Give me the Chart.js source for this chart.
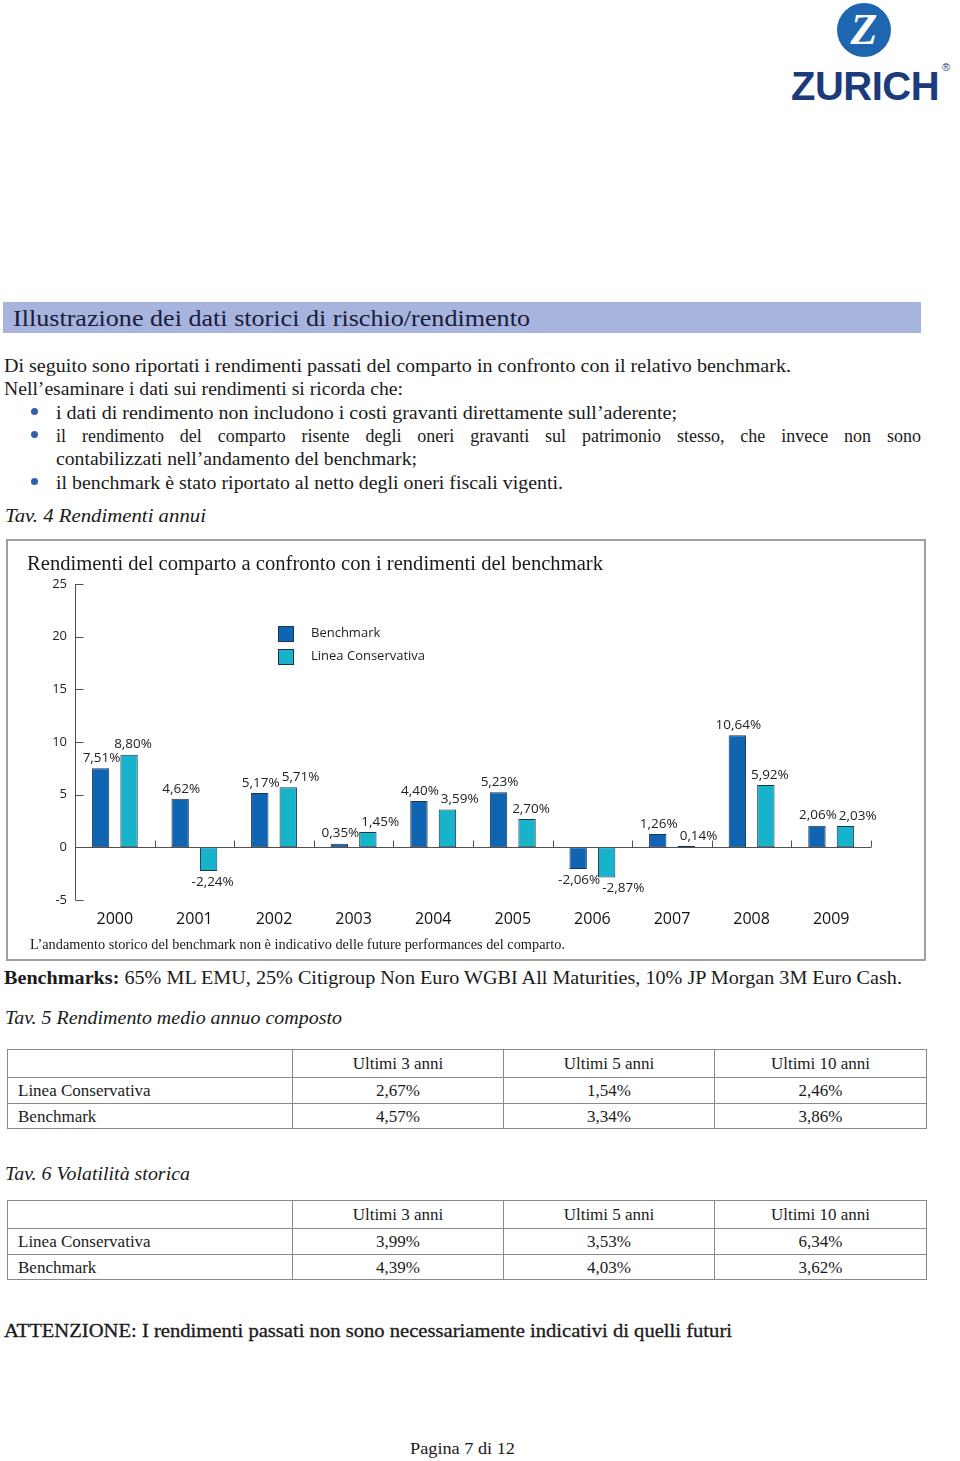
<!DOCTYPE html>
<html lang="it">
<head>
<meta charset="utf-8">
<title>Rendimenti annui</title>
<script src="https://cdn.jsdelivr.net/npm/chart.js@4.4.1/dist/chart.umd.min.js"></script>
<style>
  html, body { margin: 0; padding: 0; background: #fff; }
  body { width: 960px; height: 1461px; position: relative; overflow: hidden; }
  .t { position: absolute; white-space: nowrap; line-height: 1; font-family: "Liberation Serif", serif; color: #1a1a1a; transform-origin: 0 50%; }
  .it { font-style: italic; }
  .bul { position: absolute; width: 7px; height: 7px; border-radius: 50%; background: #2f5fb3; }
  #hdr { position: absolute; left: 3px; top: 302px; width: 918px; height: 31px; background: #a7b4de; }
  #box { position: absolute; left: 6px; top: 539px; width: 920px; height: 422px; border: 2px solid #a0a0a0; box-sizing: border-box; }
  #chart { position: absolute; left: 0; top: 540px; }
  table { position: absolute; left: 7px; border-collapse: collapse; width: 919px; table-layout: fixed; font-family: "Liberation Serif", serif; font-size: 17px; color: #1a1a1a; }
  td { border: 1px solid #8a8a8a; padding: 0 10px; line-height: 1; }
  td.c { text-align: center; }
  #logo-c { position: absolute; left: 837px; top: 3px; width: 54px; height: 54px; border-radius: 50%; background: #1f66b1; color: #fff; font: bold italic 44px "Liberation Serif", serif; text-align: center; line-height: 54px; }
  #logo-t { position: absolute; left: 791px; top: 66px; font: bold 40px "Liberation Sans", sans-serif; color: #1b3b7c; letter-spacing: -0.5px; line-height: 40px; }
  #logo-r { position: absolute; left: 942px; top: 61px; font: 11px "Liberation Sans", sans-serif; color: #1b3b7c; }
</style>
</head>
<body>
<div id="logo-c">Z</div>
<div id="logo-t">ZURICH</div>
<div id="logo-r">®</div>

<div id="hdr"></div>
<div class="t" data-w="517" style="left:13px; top:307px; font-size:23px; color:#1b1b3a;">Illustrazione dei dati storici di rischio/rendimento</div>

<div class="t" data-w="787" style="left:4px; top:357px; font-size:18px;">Di seguito sono riportati i rendimenti passati del comparto in confronto con il relativo benchmark.</div>
<div class="t" data-w="399" style="left:4px; top:380px; font-size:18px;">Nell’esaminare i dati sui rendimenti si ricorda che:</div>
<div class="bul" style="left:31px; top:408px;"></div>
<div class="t" data-w="621" style="left:56px; top:404px; font-size:18px;">i dati di rendimento non includono i costi gravanti direttamente sull’aderente;</div>
<div class="bul" style="left:31px; top:431px;"></div>
<div class="t" style="left:56px; top:427px; font-size:18px; width:865px; white-space:normal; text-align:justify; text-align-last:justify;">il rendimento del comparto risente degli oneri gravanti sul patrimonio stesso, che invece non sono</div>
<div class="t" data-w="361" style="left:56px; top:450px; font-size:18px;">contabilizzati nell’andamento del benchmark;</div>
<div class="bul" style="left:31px; top:478px;"></div>
<div class="t" data-w="507" style="left:56px; top:474px; font-size:18px;">il benchmark è stato riportato al netto degli oneri fiscali vigenti.</div>
<div class="t it" data-w="201" style="left:5px; top:507px; font-size:18px;">Tav. 4 Rendimenti annui</div>

<div id="box"></div>
<canvas id="chart" width="960" height="400"></canvas>
<div class="t" data-w="576" style="left:27px; top:553px; font-size:20px;">Rendimenti del comparto a confronto con i rendimenti del benchmark</div>
<div class="t" data-w="535" style="left:30px; top:938px; font-size:14px;">L’andamento storico del benchmark non è indicativo delle future performances del comparto.</div>

<div class="t" data-w="898" style="left:4px; top:969px; font-size:18px;"><b>Benchmarks:</b> 65% ML EMU, 25% Citigroup Non Euro WGBI All Maturities, 10% JP Morgan 3M Euro Cash.</div>
<div class="t it" data-w="337" style="left:5px; top:1009px; font-size:18px;">Tav. 5 Rendimento medio annuo composto</div>
<table id="tab5" style="top:1049px;"></table>
<div class="t it" data-w="185" style="left:5px; top:1165px; font-size:18px;">Tav. 6 Volatilità storica</div>
<table id="tab6" style="top:1200px;"></table>

<div class="t" data-w="728" style="left:4px; top:1321px; font-size:19px; -webkit-text-stroke:0.3px #1a1a1a;">ATTENZIONE: I rendimenti passati non sono necessariamente indicativi di quelli futuri</div>
<div class="t" data-w="105" style="left:410px; top:1440px; font-size:17px;">Pagina 7 di 12</div>

<script>
const years = ['2000', '2001', '2002', '2003', '2004', '2005', '2006', '2007', '2008', '2009'];
const benchmark = [7.51, 4.62, 5.17, 0.35, 4.40, 5.23, -2.06, 1.26, 10.64, 2.06];
const lineaConservativa = [8.80, -2.24, 5.71, 1.45, 3.59, 2.70, -2.87, 0.14, 5.92, 2.03];
const yMin = -5;
const yMax = 25;
const yStep = 5;

const periodi = ['Ultimi 3 anni', 'Ultimi 5 anni', 'Ultimi 10 anni'];
const rendMedioLinea = ['2,67%', '1,54%', '2,46%'];
const rendMedioBench = ['4,57%', '3,34%', '3,86%'];
const volLinea = ['3,99%', '3,53%', '6,34%'];
const volBench = ['4,39%', '4,03%', '3,62%'];

// tabelle
function buildTable(id, linea, bench) {
    const tab = document.getElementById(id);
    let html = '<colgroup><col style="width:285px"><col style="width:211px"><col style="width:211px"><col style="width:212px"></colgroup>';
    html += '<tr style="height:28px"><td></td>' + periodi.map(p => '<td class="c">' + p + '</td>').join('') + '</tr>';
    html += '<tr style="height:26px"><td>Linea Conservativa</td>' + linea.map(v => '<td class="c">' + v + '</td>').join('') + '</tr>';
    html += '<tr style="height:25px"><td>Benchmark</td>' + bench.map(v => '<td class="c">' + v + '</td>').join('') + '</tr>';
    tab.innerHTML = html;
}
buildTable('tab5', rendMedioLinea, rendMedioBench);
buildTable('tab6', volLinea, volBench);

// adatta la larghezza delle righe di testo
document.querySelectorAll('[data-w]').forEach(el => {
    const w = el.getBoundingClientRect().width;
    el.style.transform = 'scaleX(' + (parseFloat(el.dataset.w) / w) + ')';
});

const fmt = v => v.toFixed(2).replace('.', ',') + '%';

// assi, etichette dei valori e legenda
const axisPlugin = {
    id: 'axisPlugin',
    afterDatasetsDraw(chart) {
        const { ctx, chartArea: a, scales: { x, y } } = chart;
        const y0 = Math.round(y.getPixelForValue(0)) + 0.5;
        const xl = Math.round(a.left) + 0.5;
        ctx.save();
        ctx.strokeStyle = '#505050';
        ctx.lineWidth = 1;
        ctx.beginPath();
        ctx.moveTo(xl, a.top);
        ctx.lineTo(xl, a.bottom);
        y.ticks.forEach(t => {
            const py = Math.round(y.getPixelForValue(t.value)) + 0.5;
            ctx.moveTo(xl, py);
            ctx.lineTo(xl + 8, py);
        });
        ctx.moveTo(xl, y0);
        ctx.lineTo(a.right, y0);
        const cw = (a.right - a.left) / years.length;
        for (let i = 1; i <= years.length; i++) {
            const px = Math.round(a.left + i * cw) + 0.5;
            ctx.moveTo(px, y0 - 7);
            ctx.lineTo(px, y0);
        }
        ctx.stroke();

        // etichette: se si sovrappongono a quella del benchmark, spostale a destra
        ctx.font = '13.5px "Open Sans"';
        ctx.fillStyle = '#222';
        ctx.textAlign = 'center';
        ctx.textBaseline = 'middle';
        const m0 = chart.getDatasetMeta(0).data;
        const m1 = chart.getDatasetMeta(1).data;
        years.forEach((yr, i) => {
            const v0 = benchmark[i], v1 = lineaConservativa[i];
            const t0 = fmt(v0), t1 = fmt(v1);
            const w0 = ctx.measureText(t0).width, w1 = ctx.measureText(t1).width;
            const x0 = m0[i].x + 1;
            const ly0 = v0 >= 0 ? m0[i].y - 10 : m0[i].y + 11;
            let x1 = m1[i].x + 4;
            const ly1 = v1 >= 0 ? m1[i].y - 10 : m1[i].y + 11;
            if (Math.abs(ly1 - ly0) < 12) {
                x1 = Math.max(x1, x0 + w0 / 2 + w1 / 2 + 2);
            }
            ctx.fillText(t0, x0, ly0);
            ctx.fillText(t1, x1, ly1);
        });

        // legenda
        const lx = a.left + 203;
        let ly = a.top + 42;
        ctx.textAlign = 'left';
        ctx.font = '13px "Open Sans"';
        chart.data.datasets.forEach(ds => {
            ctx.fillStyle = ds.backgroundColor;
            ctx.fillRect(lx, ly, 16, 16);
            ctx.strokeStyle = '#1d3550';
            ctx.strokeRect(lx + 0.5, ly + 0.5, 15, 15);
            ctx.fillStyle = '#222';
            ctx.fillText(ds.label, lx + 33, ly + 7);
            ly += 23;
        });
        ctx.restore();
    }
};

document.addEventListener('DOMContentLoaded', () => {
    const ctx = document.getElementById('chart').getContext('2d');
    new Chart(ctx, {
        type: 'bar',
        data: {
            labels: years,
            datasets: [{
                label: 'Benchmark',
                data: benchmark,
                backgroundColor: '#1065b2',
                borderColor: '#1d3550',
                borderWidth: 1,
                borderSkipped: false,
                categoryPercentage: 0.716,
                barPercentage: 0.61
            }, {
                label: 'Linea Conservativa',
                data: lineaConservativa,
                backgroundColor: '#16b3ca',
                borderColor: '#1d3550',
                borderWidth: 1,
                borderSkipped: false,
                categoryPercentage: 0.716,
                barPercentage: 0.61
            }]
        },
        options: {
            responsive: false,
            animation: false,
            devicePixelRatio: 1,
            layout: { padding: { left: 0, right: 89, top: 44, bottom: 0 } },
            scales: {
                x: {
                    grid: { display: false, drawTicks: false },
                    border: { display: false },
                    ticks: { font: { family: 'Open Sans', size: 16 }, color: '#111', padding: 10 },
                    afterFit: s => { s.height = 40; }
                },
                y: {
                    min: yMin,
                    max: yMax,
                    grid: { display: false, drawTicks: false },
                    border: { display: false },
                    ticks: { stepSize: yStep, font: { family: 'Open Sans', size: 13 }, color: '#222', padding: 8 },
                    afterFit: s => { s.width = 75; }
                }
            },
            plugins: {
                legend: { display: false },
                tooltip: { enabled: false }
            }
        },
        plugins: [axisPlugin]
    });
});
</script>
</body>
</html>
